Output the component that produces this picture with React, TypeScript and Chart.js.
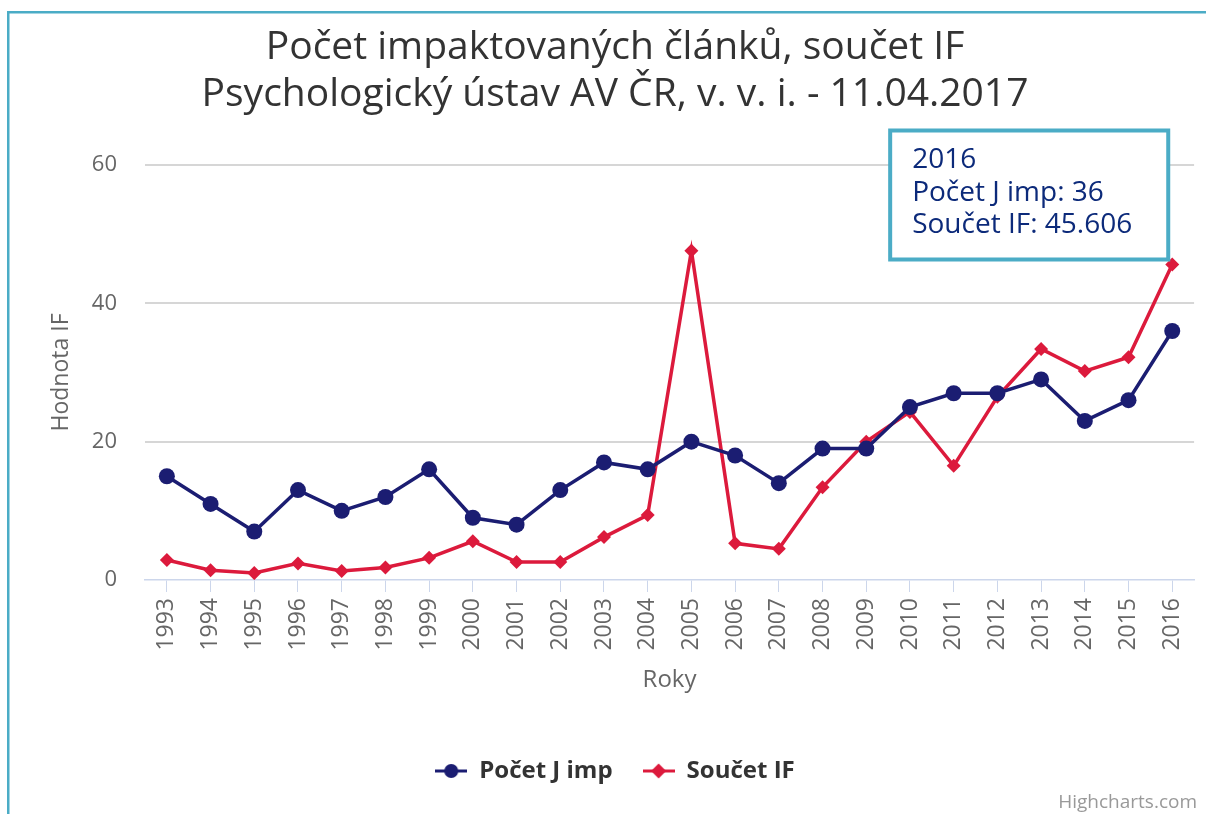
import React, { useEffect, useRef } from 'react';
import { Chart, registerables, Tooltip } from 'chart.js';

Chart.register(...registerables);

const years = ['1993', '1994', '1995', '1996', '1997', '1998', '1999', '2000', '2001', '2002', '2003', '2004', '2005', '2006', '2007', '2008', '2009', '2010', '2011', '2012', '2013', '2014', '2015', '2016'];
const pocetJImp = [15, 11, 7, 13, 10, 12, 16, 9, 8, 13, 17, 16, 20, 18, 14, 19, 19, 25, 27, 27, 29, 23, 26, 36];
const soucetIF = [2.9, 1.4, 1.0, 2.4, 1.3, 1.8, 3.2, 5.6, 2.6, 2.6, 6.2, 9.4, 47.6, 5.3, 4.5, 13.4, 20.0, 24.3, 16.5, 26.5, 33.4, 30.2, 32.2, 45.606];
const yTicks = [0, 20, 40, 60];
const titleLines = ['Počet impaktovaných článků, součet IF', 'Psychologický ústav AV ČR, v. v. i. - 11.04.2017'];
const seriesNames = ['Počet J imp', 'Součet IF'];
const tooltipIndex = 23;

const BLUE = '#1b1d72';
const RED = '#dc1a3c';
const FONT = "'Open Sans', 'DejaVu Sans', sans-serif";

(Tooltip.positioners as any).anchorTopLeft = function (items: any[]) {
  if (!items.length) return false;
  const x = items[0].element.x;
  const y = Math.min(...items.map((it: any) => it.element.y));
  return { x: x - 4, y: y - 5, xAlign: 'right', yAlign: 'bottom' };
};

function makeIcon(color: string, kind: 'circle' | 'diamond') {
  const c = document.createElement('canvas');
  c.width = 32;
  c.height = 18;
  const g = c.getContext('2d')!;
  g.strokeStyle = color;
  g.lineWidth = 3;
  g.beginPath();
  g.moveTo(0, 9);
  g.lineTo(32, 9);
  g.stroke();
  g.fillStyle = color;
  g.beginPath();
  if (kind === 'circle') {
    g.arc(16, 9, 7, 0, Math.PI * 2);
  } else {
    g.moveTo(16, 1.5);
    g.lineTo(23.5, 9);
    g.lineTo(16, 16.5);
    g.lineTo(8.5, 9);
    g.closePath();
  }
  g.fill();
  return c;
}

const decorPlugin = {
  id: 'decor',
  beforeDraw(chart: any) {
    const ctx = chart.ctx;
    ctx.save();
    ctx.fillStyle = '#ffffff';
    ctx.fillRect(0, 0, chart.width, chart.height);
    ctx.fillStyle = '#4bacc6';
    ctx.fillRect(7, 11, chart.width - 7, 2.5);
    ctx.fillRect(7, 11, 2.5, chart.height - 11);
    ctx.restore();
  },
  afterDraw(chart: any) {
    const ctx = chart.ctx;
    ctx.save();
    ctx.font = `19px ${FONT}`;
    ctx.fillStyle = '#999999';
    ctx.textAlign = 'right';
    ctx.textBaseline = 'middle';
    ctx.fillText('Highcharts.com', 1197, 803);
    ctx.restore();
  },
};

export default function App() {
  const ref = useRef<HTMLCanvasElement | null>(null);

  useEffect(() => {
    document.body.style.margin = '0';
    const canvas = ref.current!;
    const icons = [makeIcon(BLUE, 'circle'), makeIcon(RED, 'diamond')];

    const chart = new Chart(canvas, {
      type: 'line',
      data: {
        labels: years,
        datasets: [
          {
            label: seriesNames[0],
            data: pocetJImp,
            borderColor: BLUE,
            backgroundColor: BLUE,
            borderWidth: 3.5,
            pointStyle: 'circle',
            pointRadius: 8,
            pointHoverRadius: 8,
            pointBorderWidth: 0,
            tension: 0,
          },
          {
            label: seriesNames[1],
            data: soucetIF,
            borderColor: RED,
            backgroundColor: RED,
            borderWidth: 3.5,
            pointStyle: 'rectRot',
            pointRadius: 7,
            pointHoverRadius: 7,
            pointBorderWidth: 0,
            tension: 0,
          },
        ],
      },
      options: {
        responsive: false,
        animation: false,
        events: [],
        layout: { padding: { left: 30, right: 6, top: 0, bottom: 21 } },
        scales: {
          x: {
            type: 'category',
            offset: true,
            afterFit: (s: any) => { s.height = 149; },
            grid: {
              drawOnChartArea: false,
              drawTicks: true,
              tickLength: 12,
              color: '#ccd6eb',
              lineWidth: 1,
            },
            border: { display: true, color: '#ccd6eb', width: 1.5 },
            ticks: {
              autoSkip: false,
              minRotation: 90,
              maxRotation: 90,
              padding: 6,
              color: '#666666',
              font: { family: FONT, size: 23 },
            },
            title: {
              display: true,
              text: 'Roky',
              color: '#666666',
              font: { family: FONT, size: 24, lineHeight: 1.2 },
              padding: { top: 0, bottom: 34.6 },
            },
          },
          y: {
            min: 0,
            max: 60,
            afterFit: (s: any) => { s.width = 115; },
            afterBuildTicks: (s: any) => { s.ticks = yTicks.map((v) => ({ value: v })); },
            grid: {
              drawTicks: false,
              lineWidth: 2,
              color: (c: any) => (c.tick && c.tick.value === 0 ? 'rgba(0,0,0,0)' : '#d6d6d6'),
            },
            border: { display: false },
            ticks: {
              padding: 28,
              color: '#666666',
              font: { family: FONT, size: 22 },
            },
            title: {
              display: true,
              text: 'Hodnota IF',
              color: '#666666',
              font: { family: FONT, size: 23, lineHeight: 1.2 },
              padding: { top: 18, bottom: 0 },
            },
          },
        },
        plugins: {
          title: {
            display: true,
            text: titleLines,
            color: '#333333',
            font: { family: FONT, size: 39, weight: 'normal', lineHeight: 1.205 },
            padding: { top: 24.5, bottom: 46.5 },
          },
          legend: {
            display: true,
            position: 'bottom',
            labels: {
              usePointStyle: true,
              pointStyleWidth: 32,
              padding: 30,
              color: '#333333',
              font: { family: FONT, size: 24, weight: 'bold' },
              generateLabels: (ch: any) => {
                const items = (Chart.defaults.plugins.legend.labels as any).generateLabels(ch);
                items.forEach((it: any, i: number) => { it.pointStyle = icons[i]; });
                return items;
              },
            },
          },
          tooltip: {
            enabled: true,
            mode: 'index',
            intersect: false,
            position: 'anchorTopLeft' as any,
            backgroundColor: '#ffffff',
            borderColor: '#4bacc6',
            borderWidth: 4,
            cornerRadius: 0,
            caretSize: 0,
            caretPadding: 0,
            displayColors: false,
            titleColor: '#0c2a7a',
            bodyColor: '#0c2a7a',
            titleFont: { family: FONT, size: 28, weight: 'normal', lineHeight: 1.143 },
            bodyFont: { family: FONT, size: 28, weight: 'normal', lineHeight: 1.143 },
            titleMarginBottom: 1,
            titleSpacing: 0,
            bodySpacing: 0,
            padding: { top: 13, bottom: 19, left: 22, right: 36 },
            callbacks: {
              title: (items: any[]) => (items.length ? years[items[0].dataIndex] : ''),
              label: (item: any) => `${item.dataset.label}: ${item.raw}`,
            },
          },
        },
      },
      plugins: [decorPlugin],
    } as any);

    chart.tooltip!.setActiveElements(
      [
        { datasetIndex: 0, index: tooltipIndex },
        { datasetIndex: 1, index: tooltipIndex },
      ],
      { x: 0, y: 0 }
    );
    chart.update();

    return () => chart.destroy();
  }, []);

  return (
    <div style={{ width: 1206, height: 814 }}>
      <canvas ref={ref} width={1206} height={814} style={{ display: 'block' }} />
    </div>
  );
}
